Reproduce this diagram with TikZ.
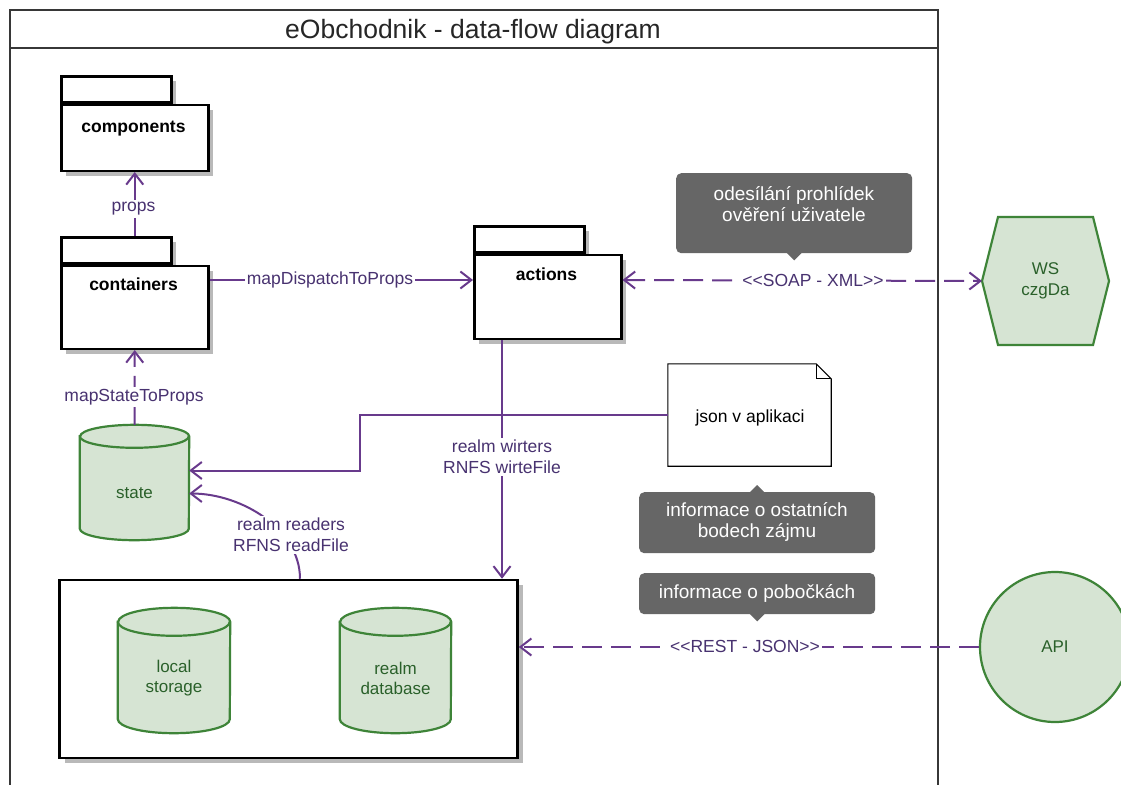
\documentclass[tikz,border=0pt]{standalone}
\usepackage{fontspec}
\setmainfont{Liberation Sans}
\usetikzlibrary{arrows.meta,calc,shadows}

\definecolor{flowc}{RGB}{104,58,140}
\definecolor{flowtext}{RGB}{72,50,112}
\definecolor{dbgreen}{RGB}{62,132,56}
\definecolor{dbfillc}{RGB}{214,228,211}
\definecolor{dbtextc}{RGB}{42,96,42}
\definecolor{tipgray}{RGB}{102,102,102}
\definecolor{framegray}{RGB}{55,55,55}
\definecolor{shadowgray}{RGB}{185,185,185}

% cylinder outline drawn round a named node: #1 node, #2 x radius, #3 y radius
\newcommand\dbshape[3]{%
  \filldraw[dbline]
    ($(#1.north west)+(0,#3)$) -- ($(#1.south west)+(0,-#3)$)
    arc[start angle=180,end angle=360,x radius=#2,y radius=#3pt]
    -- ($(#1.north east)+(0,#3)$)
    arc[start angle=0,end angle=180,x radius=#2,y radius=#3pt] -- cycle;
  \draw[dbline,fill=none] ($(#1.north west)+(0,#3)$)
    arc[start angle=180,end angle=360,x radius=#2,y radius=#3pt];
}

\begin{document}
\begin{tikzpicture}[x=1pt,y=-1pt,
  frame/.style={draw=framegray,line width=2pt},
  titletext/.style={text=black!85,font=\fontsize{26.5}{30}\selectfont,inner sep=0pt,anchor=base},
  pkgtab/.style={draw=black,fill=white,line width=2.5pt,inner sep=0pt,
    general shadow={fill=shadowgray,shadow xshift=5pt,shadow yshift=-5pt}},
  pkgbody/.style={pkgtab},
  pkgname/.style={font=\bfseries\fontsize{17.5}{20}\selectfont,inner sep=0pt,anchor=base},
  flow/.style={draw=flowc,line width=2pt},
  tipflow/.style={-{Straight Barb[length=11pt,width=17pt,line width=2pt]}},
  dashflow/.style={flow,dash pattern=on 20pt off 9pt},
  flowlabel/.style={fill=white,text=flowtext,font=\fontsize{17.5}{21}\selectfont,
    align=center,inner sep=2pt},
  dbline/.style={draw=dbgreen,fill=dbfillc,line width=2.2pt},
  dbbox/.style={draw=none,inner sep=0pt},
  dbtext/.style={text=dbtextc,font=\fontsize{17}{20}\selectfont,align=center,inner sep=0pt},
  tipbox/.style={fill=tipgray,rounded corners=5pt,inner sep=0pt,anchor=north west},
  tiptext/.style={text=white,font=\fontsize{19}{20.5}\selectfont,align=center,inner sep=0pt},
  notebox/.style={draw=none,inner sep=0pt,font=\fontsize{17.5}{20}\selectfont},
  noteline/.style={draw=black,fill=white,line width=1.1pt}
]
\clip (0,0) rectangle (1121,784);
\fill[white] (0,0) rectangle (1121,784);

% outer frame with title bar
\draw[frame] (10,10) rectangle (938,800);
\draw[frame] (10,48) -- (938,48);
\node[titletext] (title) at (473,39) {eObchodnik - data-flow diagram};

% packages
\node[pkgtab,minimum width=110pt,minimum height=26pt,anchor=north west] (components-tab) at (60,75) {};
\node[pkgbody,minimum width=147pt,minimum height=66pt,anchor=north west] (components) at (components-tab.south west) {};
\node[pkgname] (components-name) at (133.5,132) {components};

\node[pkgtab,minimum width=110pt,minimum height=26pt,anchor=north west] (containers-tab) at (60,236) {};
\node[pkgbody,minimum width=147pt,minimum height=83pt,anchor=north west] (containers) at (containers-tab.south west) {};
\node[pkgname] (containers-name) at (133.5,290) {containers};

\node[pkgtab,minimum width=110pt,minimum height=26pt,anchor=north west] (actions-tab) at (473,225) {};
\node[pkgbody,minimum width=147pt,minimum height=84pt,anchor=north west] (actions) at (actions-tab.south west) {};
\node[pkgname] (actions-name) at (546.5,280) {actions};

% storage group with two databases
\node[pkgbody,minimum width=458pt,minimum height=178pt] (storage) at (288.5,669) {};
\node[dbbox,minimum width=112pt,minimum height=125pt] (local) at (174,670.5) {};
\dbshape{local}{56pt}{14}
\node[dbtext] (local-name) at (174,678) {local\\storage};
\node[dbbox,minimum width=111pt,minimum height=125pt] (realm) at (395.5,670.5) {};
\dbshape{realm}{55.5pt}{14}
\node[dbtext] (realm-name) at (395.5,678) {realm\\database};

% application state
\node[dbbox,minimum width=109pt,minimum height=115pt] (state) at (134.5,482.5) {};
\dbshape{state}{54.5pt}{11.5}
\node[dbtext] (state-name) at (134.5,493) {state};

% note
\node[notebox,minimum width=163pt,minimum height=102pt] (json) at (749.5,415) {};
\draw[noteline] (json.north west) -- ($(json.north east)+(-15,0)$) -- ($(json.north east)+(0,15)$)
  -- (json.south east) -- (json.south west) -- cycle;
\draw[noteline,fill=none] ($(json.north east)+(-15,0)$) -- ++(0,15) -- ++(15,0);
\node[notebox] (json-text) at (750,418) {json v aplikaci};

% external web service
\coordinate (ws-c) at (1045.5,281);
\draw[dbline] ($(ws-c)+(-63.5,0)$) -- ($(ws-c)+(-47.5,-64)$) -- ($(ws-c)+(47.5,-64)$)
  -- ($(ws-c)+(63.5,0)$) -- ($(ws-c)+(47.5,64)$) -- ($(ws-c)+(-47.5,64)$) -- cycle;
\coordinate (ws-west) at ($(ws-c)+(-63.5,0)$);
\node[dbtext,font=\fontsize{17}{21}\selectfont] (ws) at (ws-c) {WS\\czgDa};

% external API
\node[circle,draw=dbgreen,fill=dbfillc,line width=2.2pt,minimum size=150pt,inner sep=0pt,
  text=dbtextc,font=\fontsize{17}{20}\selectfont] (api) at (1055,647) {API};

% connectors
\coordinate (row) at (0,280);
\coordinate (aw) at ($(actions.south west)+(29,0)$);
\coordinate (rd) at ($(storage.north)+(11.5,0)$);

\draw[flow,tipflow] (components.south |- containers-tab.north) -- (components.south);
\draw[flow,tipflow] (containers.east |- row) -- (actions.west |- row);
\draw[dashflow,tipflow] (state.north) -- (containers.south);
\draw[dashflow,{Straight Barb[length=11pt,width=17pt,line width=2pt]}-{Straight Barb[length=11pt,width=17pt,line width=2pt]}]
  (actions.east |- row) -- (ws-west);
\draw[flow,tipflow] (aw) -- (aw |- storage.north);
\draw[flow,tipflow] (json.west) -- ++(-308,0) |- ($(state.east)+(0,-12)$);
\draw[flow,tipflow] (rd) .. controls ($(rd)+(0,-50)$) and ($(state.east)+(52,11)$) .. ($(state.east)+(0,11)$);
\draw[dashflow,tipflow] (api.west) -- (storage.east |- api.west);

% connector labels
\node[flowlabel] (lbl-props) at (133.5,209) {props};
\node[flowlabel] (lbl-dispatch) at (330,280) {mapDispatchToProps};
\node[flowlabel] (lbl-state) at (134,397) {mapStateToProps};
\node[flowlabel] (lbl-soap) at (813,280) {<{}<SOAP - XML>{}>};
\node[flowlabel] (lbl-writers) at (502,457) {realm wirters\\RNFS wirteFile};
\node[flowlabel] (lbl-readers) at (291,535) {realm readers\\RFNS readFile};
\node[flowlabel] (lbl-rest) at (745,646) {<{}<REST - JSON>{}>};

% callouts
\node[tipbox,minimum width=236pt,minimum height=80pt] (tip-soap) at (676,173) {};
\fill[tipgray] ($(tip-soap.south)+(-8,-1)$) -- ++(8,8) -- ++(8,-8) -- cycle;
\node[tiptext] (tip-soap-text) at (794,204) {odesílání prohlídek\\ověření uživatele};

\node[tipbox,minimum width=236pt,minimum height=61pt] (tip-poi) at (639,492) {};
\fill[tipgray] ($(tip-poi.north)+(-8,1)$) -- ++(8,-8) -- ++(8,8) -- cycle;
\node[tiptext] (tip-poi-text) at (757,522) {informace o ostatních\\bodech zájmu};

\node[tipbox,minimum width=236pt,minimum height=41pt] (tip-branch) at (639,573) {};
\fill[tipgray] ($(tip-branch.south)+(-8,-1)$) -- ++(8,8) -- ++(8,-8) -- cycle;
\node[tiptext] (tip-branch-text) at (757,593.5) {informace o pobočkách};
\end{tikzpicture}
\end{document}
